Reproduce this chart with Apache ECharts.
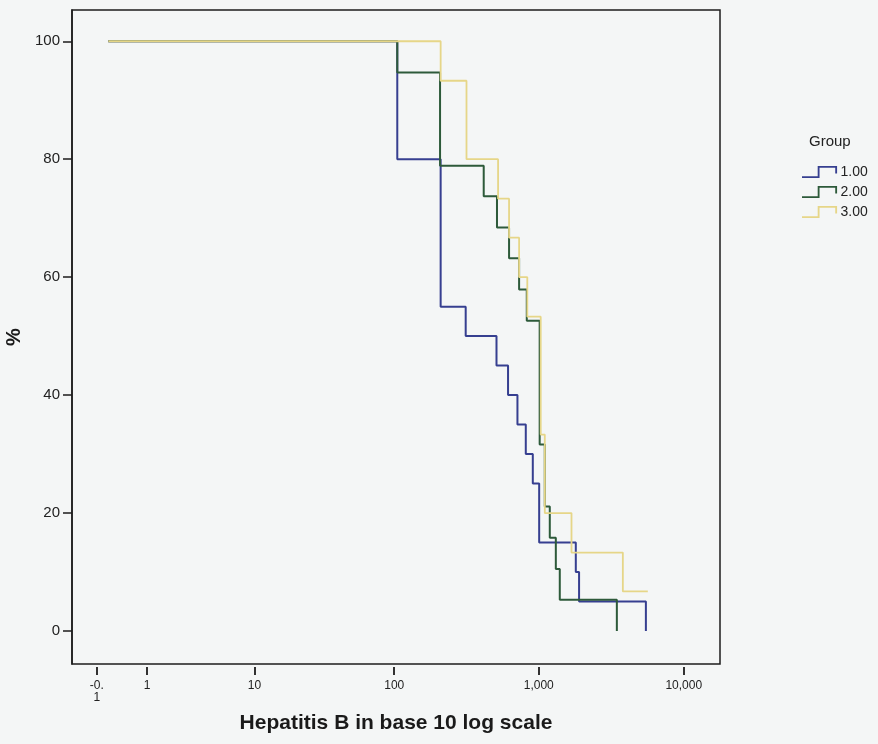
<!DOCTYPE html>
<html>
<head>
<meta charset="utf-8">
<script src="https://cdn.jsdelivr.net/npm/echarts@6/dist/echarts.min.js"></script>
<style>
  html, body { margin: 0; padding: 0; background: #f4f6f6; }
  #chart { width: 878px; height: 744px; }
</style>
</head>
<body>
<div id="chart"></div>
<script>
// Cumulative curves: for each group, the Hepatitis B titre at which the curve steps
// and the percentage that remains after that step.
const groupNames = ['1.00', '2.00', '3.00'];

const g1Titre = [0.08, 105, 210, 313, 511, 614, 713, 814, 910, 1007, 1802, 1898, 5483];
const g1Pct   = [100, 80, 55, 50, 45, 40, 35, 30, 25, 15, 10, 5, 0];

const g2Titre = [0.08, 105, 208, 417, 515, 624, 732, 827, 1015, 1101, 1192, 1312, 1397, 3458];
const g2Pct   = [100, 94.7, 78.9, 73.7, 68.4, 63.2, 57.9, 52.6, 31.6, 21.1, 15.8, 10.5, 5.3, 0];

const g3Titre = [0.08, 210, 317, 524, 624, 732, 834, 1032, 1101, 1683, 3803, 5653];
const g3Pct   = [100, 93.3, 80, 73.3, 66.7, 60, 53.3, 33.3, 20, 13.3, 6.7, 6.7];

// Axis ticks, in titre units, and the text printed under them
const xTickTitre = [-0.1, 1, 10, 100, 1000, 10000];
const xTickText  = ['-0.\n1', '1', '10', '100', '1,000', '10,000'];
const yTicks     = [0, 20, 40, 60, 80, 100];

const groupColors = ['#363f90', '#2d5a3a', '#e6d688'];
const groupWidths = [2, 2, 1.8];

// The horizontal axis is log10(titre + 1)
const toAxis = v => Math.log10(v + 1);

function pairs(xs, ys) {
  return xs.map((x, i) => [toAxis(x), ys[i]]);
}

const seriesData = [pairs(g1Titre, g1Pct), pairs(g2Titre, g2Pct), pairs(g3Titre, g3Pct)];
const xTickPos = xTickTitre.map(toAxis);

const stepIcon = 'path://M0,11 L17,11 L17,0 L38,0 L38,8 L36,8 L36,2 L19,2 L19,13 L0,13 Z';

const chart = echarts.init(document.getElementById('chart'));
chart.setOption({
  backgroundColor: '#f4f6f6',
  animation: false,
  textStyle: { fontFamily: 'Liberation Sans, Arial, sans-serif' },
  title: {
    text: 'Group',
    left: 804,
    top: 129,
    textStyle: { fontSize: 15, fontWeight: 'normal', color: '#222' }
  },
  legend: {
    orient: 'vertical',
    left: 797,
    top: 160,
    itemWidth: 38,
    itemHeight: 12,
    itemGap: 6,
    textStyle: { fontSize: 14, color: '#222', padding: [0, 0, 0, -3] },
    data: groupNames.map((n, i) => ({ name: n, icon: stepIcon, itemStyle: { color: groupColors[i] } }))
  },
  grid: {
    left: 72,
    top: 10,
    right: 158,
    bottom: 80,
    outerBoundsMode: 'none',
    containLabel: false,
    show: true,
    borderColor: '#1c1c1c',
    borderWidth: 1.5,
    backgroundColor: 'transparent'
  },
  xAxis: {
    type: 'value',
    min: -0.217,
    max: 4.25,
    offset: 3,
    name: 'Hepatitis B in base 10 log scale',
    nameLocation: 'middle',
    nameGap: 46,
    nameTextStyle: { fontSize: 21, fontWeight: 'bold', color: '#1a1a1a' },
    axisLine: { show: false, onZero: false },
    axisTick: { show: true, length: 8, customValues: xTickPos, lineStyle: { color: '#1c1c1c', width: 1.8 } },
    axisLabel: {
      customValues: xTickPos,
      fontSize: 12,
      color: '#222',
      lineHeight: 12,
      margin: 13,
      formatter: v => {
        let best = 0;
        xTickPos.forEach((p, i) => { if (Math.abs(p - v) < Math.abs(xTickPos[best] - v)) best = i; });
        return xTickText[best];
      }
    },
    splitLine: { show: false }
  },
  yAxis: {
    type: 'value',
    min: -5.6,
    max: 105.3,
    name: '%',
    nameLocation: 'middle',
    nameGap: 47,
    nameRotate: 90,
    nameTextStyle: { fontSize: 20, fontWeight: 'bold', color: '#1a1a1a' },
    axisLine: { show: true, onZero: false, lineStyle: { color: '#1c1c1c', width: 1.5 } },
    axisTick: { show: true, length: 9, customValues: yTicks, lineStyle: { color: '#1c1c1c', width: 1.5 } },
    axisLabel: { customValues: yTicks, fontSize: 15, color: '#222', margin: 12 },
    splitLine: { show: false }
  },
  series: groupNames.map((n, i) => ({
    name: n,
    type: 'line',
    step: 'end',
    data: seriesData[i],
    showSymbol: false,
    symbol: 'none',
    z: 2 + i,
    lineStyle: { color: groupColors[i], width: groupWidths[i] },
    itemStyle: { color: groupColors[i] }
  }))
});
</script>
</body>
</html>
